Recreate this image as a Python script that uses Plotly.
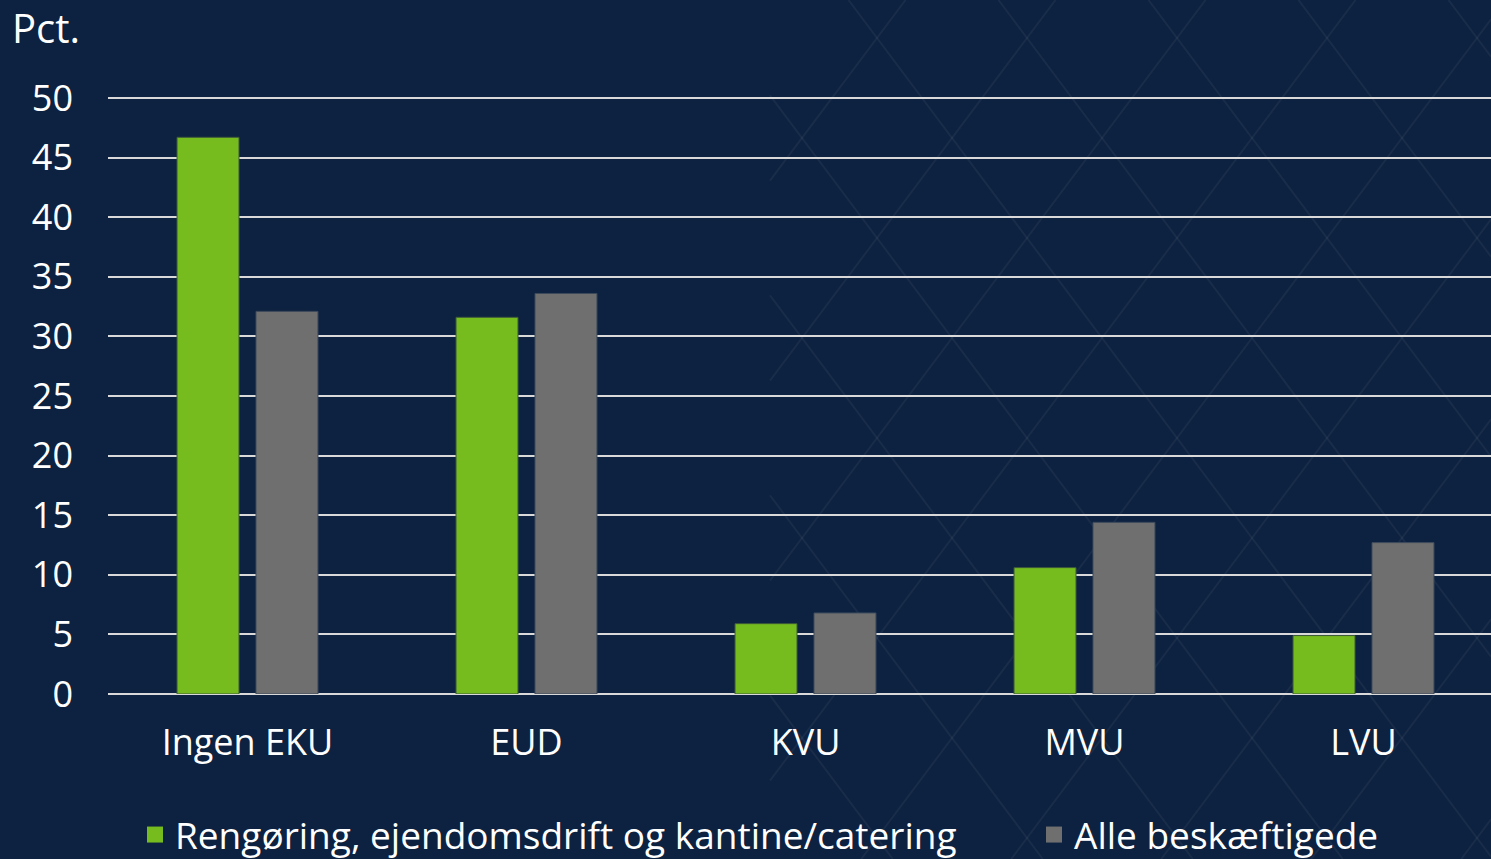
import plotly.graph_objects as go

# Data
categories = ['Ingen EKU', 'EUD', 'KVU', 'MVU', 'LVU']
rengoring = [46.7, 31.6, 5.9, 10.6, 4.9]
alle = [32.1, 33.6, 6.8, 14.4, 12.7]
series_names = ['Rengøring, ejendomsdrift og kantine/catering', 'Alle beskæftigede']
y_ticks = [0, 5, 10, 15, 20, 25, 30, 35, 40, 45, 50]

BG = '#0d2240'
GREEN = '#77bc1f'
GREY = '#6f6f6f'
FONT = 'Open Sans'
FS = 36

W, H = 1491, 859
ML, MR, MT, MB = 108, 0, 95, 165
YTOP = 50.25  # a bit above 50 so the top gridline is drawn
pw, ph = W - ML - MR, H - MT - MB


def to_paper(px, py):
    return (px - ML) / pw, (H - MB - py) / ph


fig = go.Figure()
fig.add_trace(go.Bar(x=categories, y=rengoring, name=series_names[0], showlegend=False,
                     marker=dict(color=GREEN, line=dict(color='#3d5a3a', width=1))))
fig.add_trace(go.Bar(x=categories, y=alle, name=series_names[1], showlegend=False,
                     marker=dict(color=GREY, line=dict(color='#3c4a5c', width=1))))

# legend entries with bigger square swatches, each in its own legend box
fig.add_trace(go.Scatter(x=[None], y=[None], mode='markers', name=series_names[0],
                         marker=dict(symbol='square', size=18, color=GREEN), legend='legend'))
fig.add_trace(go.Scatter(x=[None], y=[None], mode='markers', name=series_names[1],
                         marker=dict(symbol='square', size=18, color=GREY), legend='legend2'))

# faint diamond lattice in the background (right part of the picture)
shapes = []
x0, x1, y0, y1 = 770, W, 0, H


def clip(xa, ya, xc, yc):
    if xa > xc:
        xa, ya, xc, yc = xc, yc, xa, ya
    if xc < x0 or xa > x1:
        return None
    if xa < x0:
        ya = ya + (yc - ya) * (x0 - xa) / (xc - xa); xa = x0
    if xc > x1:
        yc = ya + (yc - ya) * (x1 - xa) / (xc - xa); xc = x1
    return xa, ya, xc, yc


for k in range(-10, 12):
    for s in (1, -1):
        bx = 877 + 150 * k
        ax, cx = bx + s * (y0 - 38) * 0.75, bx + s * (y1 - 38) * 0.75
        r = clip(ax, y0, cx, y1)
        if r is None:
            continue
        p0 = to_paper(r[0], r[1]); p1 = to_paper(r[2], r[3])
        shapes.append(dict(type='line', xref='paper', yref='paper',
                           x0=p0[0], y0=p0[1], x1=p1[0], y1=p1[1],
                           line=dict(color='rgba(255,255,255,0.05)', width=2),
                           layer='below'))

leg_common = dict(orientation='h', y=to_paper(0, 835)[1], yanchor='middle', xanchor='left',
                  font=dict(size=37, color='white'), bgcolor='rgba(0,0,0,0)',
                  itemsizing='trace', itemwidth=30)

fig.update_layout(
    width=W, height=H, autosize=False,
    margin=dict(l=ML, r=MR, t=MT, b=MB, autoexpand=False),
    paper_bgcolor=BG, plot_bgcolor='rgba(0,0,0,0)',
    font=dict(family=FONT, color='white', size=FS),
    barmode='group', bargap=0.434, bargroupgap=0.215,
    shapes=shapes,
    showlegend=True,
    legend=dict(x=to_paper(135, 0)[0], **leg_common),
    legend2=dict(x=to_paper(1034, 0)[0], **leg_common),
    annotations=[dict(text='Pct.', xref='paper', yref='paper',
                      x=to_paper(10, 0)[0], y=to_paper(0, 27)[1],
                      xanchor='left', yanchor='middle', showarrow=False,
                      font=dict(size=40, color='white'))],
)
# the last category runs a little past the right edge in the reference
fig.update_xaxes(range=[-0.5, 4.457], showgrid=False, showline=False, zeroline=False,
                 tickfont=dict(size=FS, color='white'), ticklabelstandoff=24)
fig.update_yaxes(range=[0, YTOP], tickvals=y_ticks, showgrid=True,
                 gridcolor='#d9d9d9', gridwidth=2, zeroline=True,
                 zerolinecolor='#d9d9d9', zerolinewidth=2, showline=False,
                 tickfont=dict(size=FS, color='white'), ticklabelstandoff=34)

fig.write_html('out.html', config={'responsive': False, 'displayModeBar': False},
               post_script="document.body.style.margin='0';"
                           "document.body.style.background='#0d2240';"
                           "Plotly.relayout('{plot_id}', {width: 1491, height: 859});")
